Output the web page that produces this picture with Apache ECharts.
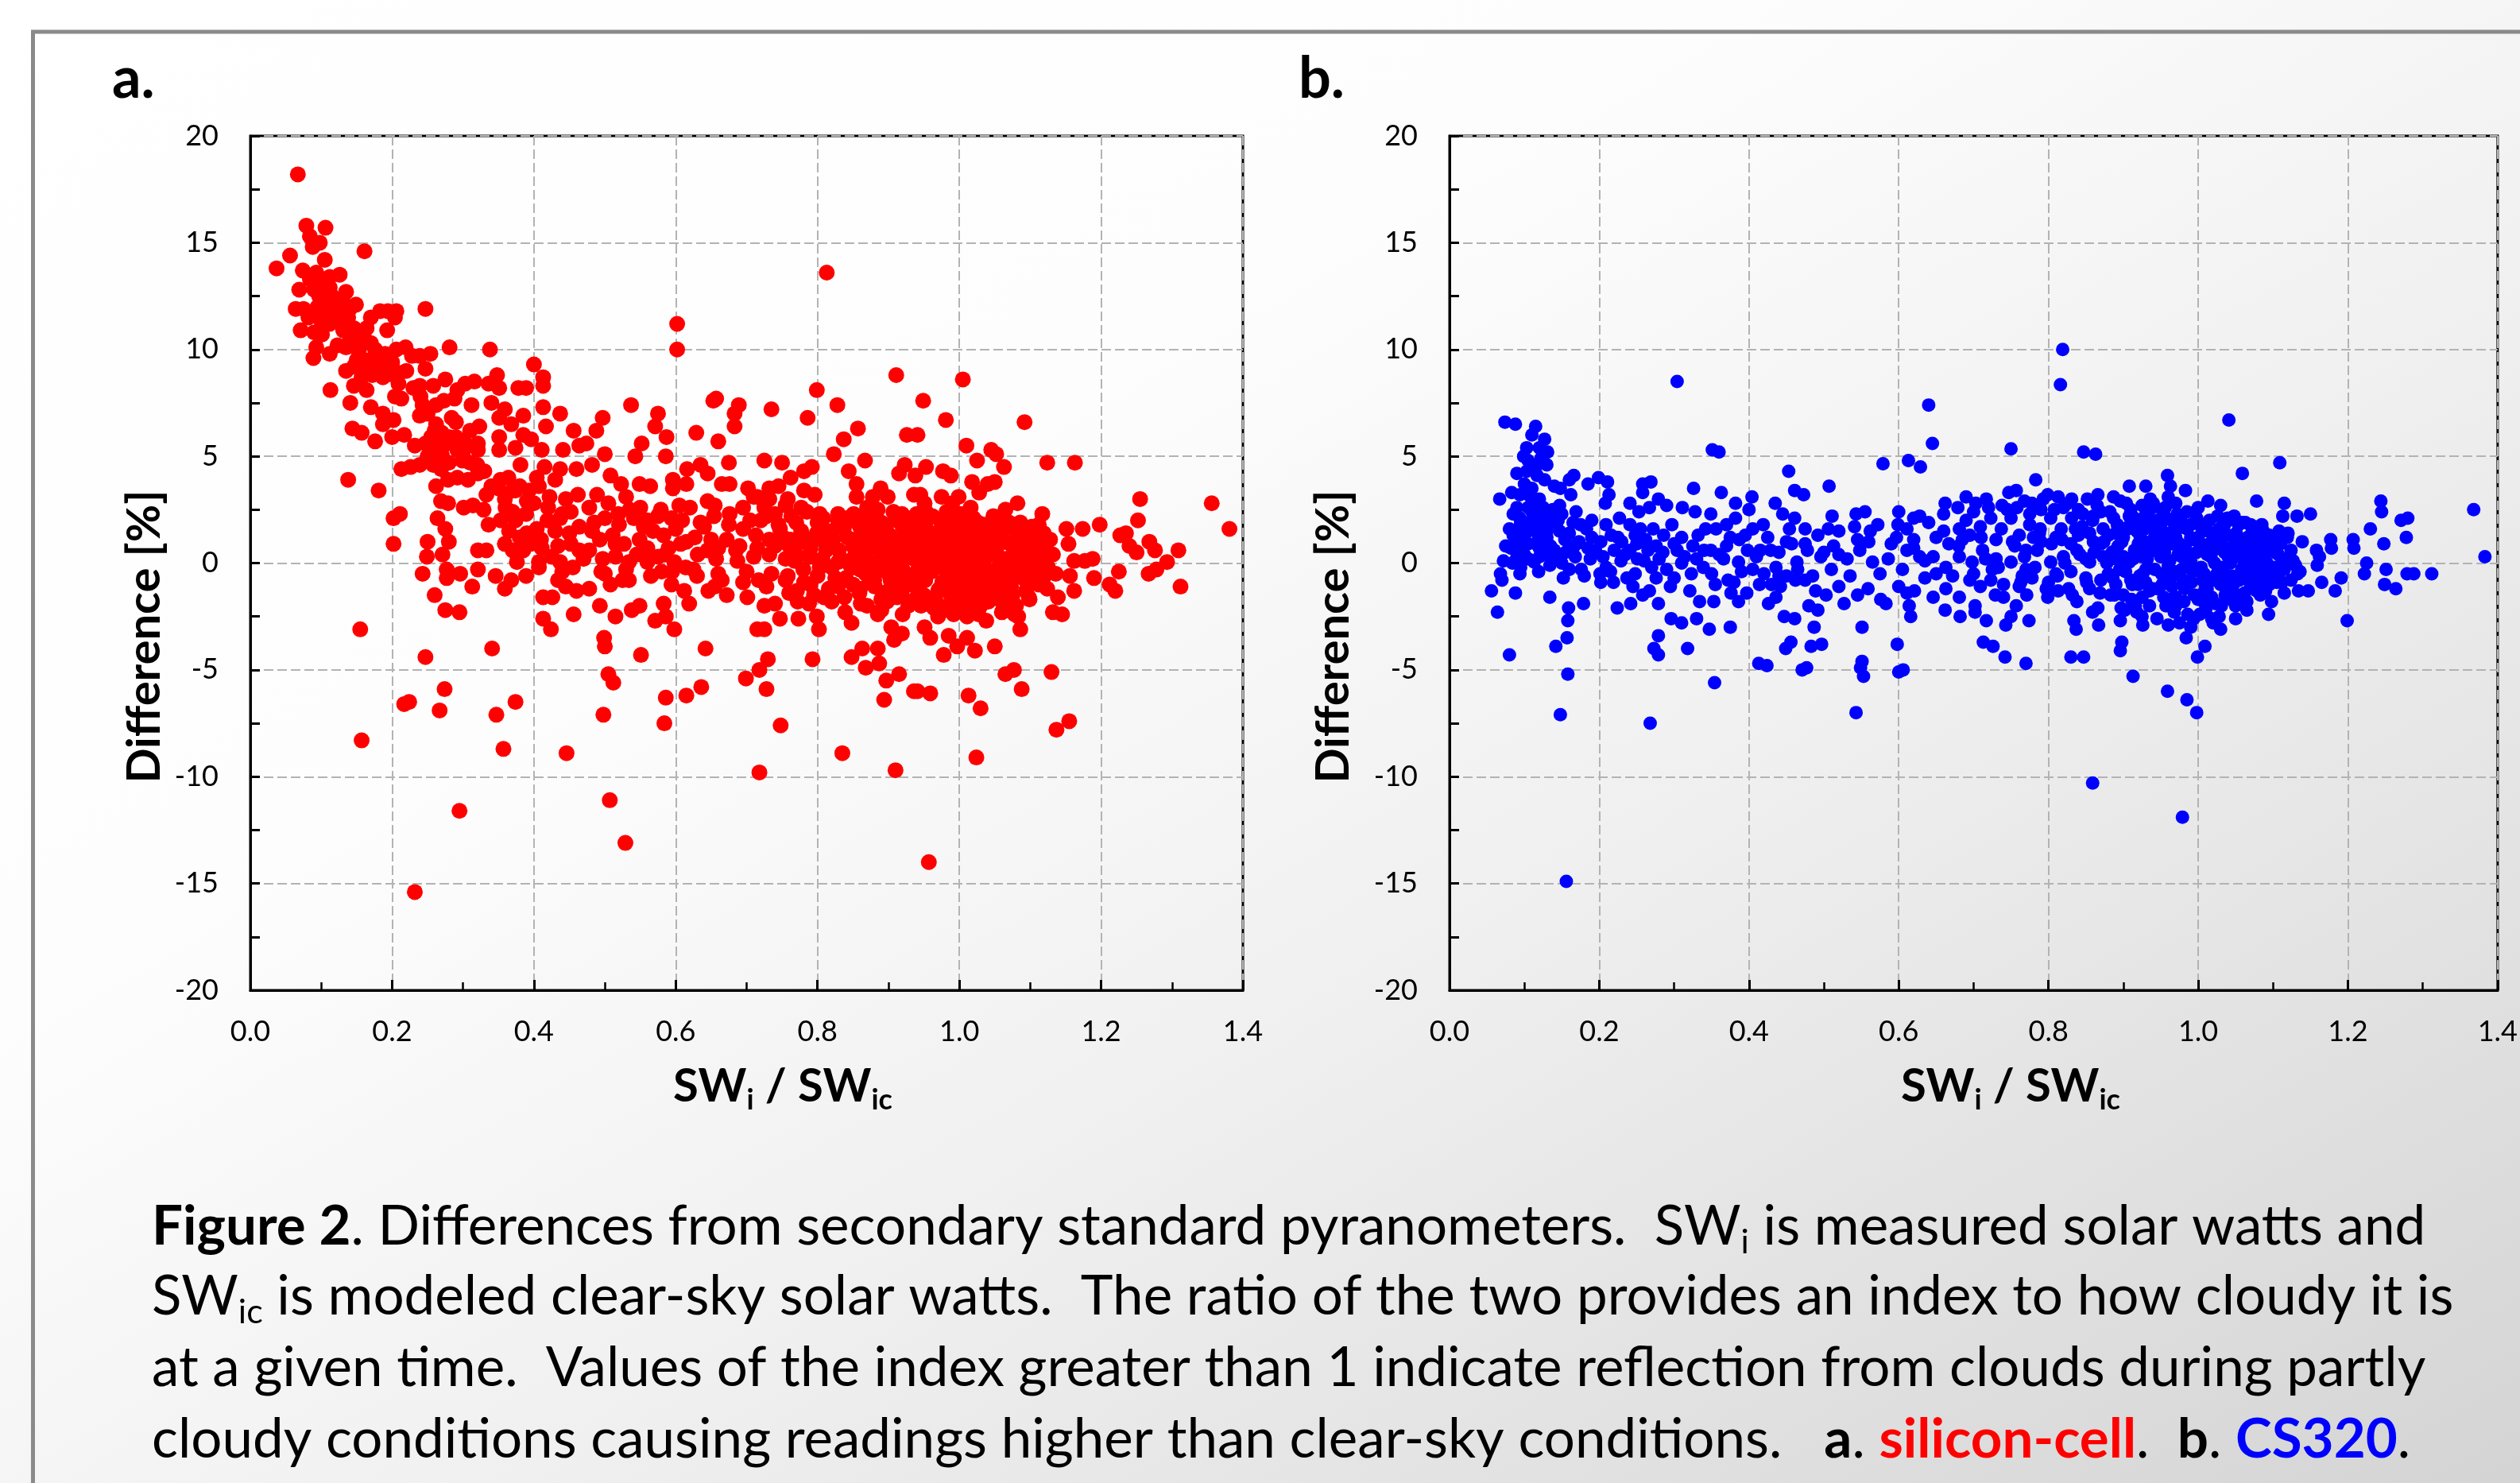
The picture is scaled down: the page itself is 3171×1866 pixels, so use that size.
<!DOCTYPE html>
<html>
<head>
<meta charset="utf-8">
<script src="https://cdn.jsdelivr.net/npm/echarts@6/dist/echarts.min.js"></script>
<style>
html,body{margin:0;padding:0;background:#ffffff;}
#chart{width:3171px;height:1866px;}
</style>
</head>
<body>
<div id="chart"></div>
<script>
// ---------------- DATA ----------------
// Panel a: silicon-cell, [SWi/SWic, Difference %]
const siliconLow = [
[0.067,18.2],[0.079,15.8],[0.106,15.7],[0.084,15.3],[0.088,14.8],[0.098,15.0],[0.161,14.6],[0.056,14.4],[0.037,13.8],[0.105,14.2],
[0.074,13.7],[0.084,13.3],[0.093,13.6],[0.112,13.4],[0.126,13.5],[0.069,12.8],[0.101,12.8],[0.112,12.9],[0.135,12.7],[0.097,12.5],
[0.108,12.3],[0.120,12.2],[0.149,12.1],[0.064,11.9],[0.075,11.9],[0.090,11.8],[0.105,11.8],[0.127,11.8],[0.082,11.5],[0.099,11.4],
[0.112,11.2],[0.138,11.5],[0.071,10.9],[0.090,10.8],[0.101,10.7],[0.131,10.9],[0.146,11.0],[0.164,11.0],[0.170,11.5],[0.183,11.8],
[0.194,11.8],[0.206,11.8],[0.204,11.5],[0.193,10.9],[0.247,11.9],[0.093,10.1],[0.089,9.6],[0.112,9.8],[0.123,10.2],[0.135,10.1],
[0.153,9.9],[0.176,10.0],[0.206,10.0],[0.219,10.1],[0.228,9.7],[0.239,9.7],[0.254,9.8],[0.281,10.1],[0.338,10.0],[0.135,9.0],
[0.146,9.2],[0.157,8.7],[0.172,8.8],[0.187,8.7],[0.202,8.8],[0.247,9.1],[0.113,8.1],[0.146,8.3],[0.164,8.1],[0.209,8.4],
[0.239,8.3],[0.258,8.3],[0.275,8.6],[0.292,8.1],[0.303,8.4],[0.316,8.5],[0.348,8.8],[0.336,8.4],[0.351,8.2],[0.378,8.2],
[0.389,8.2],[0.400,9.3],[0.413,8.7],[0.413,8.3],[0.141,7.5],[0.170,7.3],[0.187,7.0],[0.204,7.8],[0.213,7.7],[0.243,7.4],
[0.262,7.4],[0.273,7.6],[0.288,7.7],[0.312,7.4],[0.340,7.5],[0.359,7.2],[0.413,7.3],[0.437,7.0],[0.144,6.3],[0.157,6.1],
[0.176,5.7],[0.187,6.5],[0.202,6.7],[0.200,5.9],[0.217,6.0],[0.239,6.9],[0.262,6.5],[0.284,6.8],[0.310,6.2],[0.323,6.4],
[0.351,6.8],[0.368,6.5],[0.385,6.9],[0.417,6.4],[0.456,6.2],[0.232,5.5],[0.247,5.6],[0.262,5.3],[0.277,5.6],[0.292,5.3],
[0.307,5.5],[0.321,5.6],[0.321,5.3],[0.351,5.9],[0.351,5.3],[0.374,5.4],[0.385,6.0],[0.396,5.8],[0.411,5.3],[0.441,5.3],
[0.464,5.5],[0.213,4.4],[0.226,4.5],[0.239,4.6],[0.258,4.6],[0.269,4.4],[0.299,4.8],[0.262,3.6],[0.279,3.9],[0.292,4.0],
[0.307,3.9],[0.321,4.2],[0.381,4.6],[0.415,4.5],[0.437,4.4],[0.460,4.4],[0.138,3.9],[0.181,3.4],[0.353,3.9],[0.364,4.0],
[0.404,4.0],[0.430,3.9],[0.269,2.9],[0.279,2.8],[0.333,3.2],[0.359,3.0],[0.374,3.4],[0.393,3.4],[0.407,3.6],[0.422,3.1],
[0.445,3.0],[0.462,3.2],[0.301,2.6],[0.314,2.7],[0.329,2.5],[0.336,1.8],[0.353,2.0],[0.374,2.0],[0.389,2.3],[0.404,1.6],
[0.419,2.0],[0.437,2.1],[0.452,2.4],[0.464,1.7],[0.202,2.1],[0.211,2.3],[0.264,2.1],[0.275,1.6],[0.202,0.9],[0.250,1.0],
[0.280,1.0],[0.249,0.3],[0.271,0.4],[0.321,0.6],[0.333,0.6],[0.359,0.9],[0.370,0.6],[0.385,0.6],[0.411,0.7],[0.434,0.8],
[0.452,0.9],[0.407,0.05],[0.437,0.05],[0.464,0.6],[0.376,0.05],[0.243,-0.5],[0.277,-0.3],[0.277,-0.7],[0.296,-0.5],[0.321,-0.3],
[0.313,-1.1],[0.346,-0.6],[0.359,-1.2],[0.368,-0.8],[0.389,-0.6],[0.407,-0.2],[0.434,-0.8],[0.445,-1.1],[0.460,-1.3],[0.260,-1.5],
[0.275,-2.2],[0.295,-2.3],[0.413,-1.6],[0.426,-1.6],[0.413,-2.6],[0.424,-3.1],[0.456,-2.4],[0.155,-3.1],[0.247,-4.4],[0.341,-4.0],
[0.217,-6.6],[0.224,-6.5],[0.274,-5.9],[0.267,-6.9],[0.347,-7.1],[0.374,-6.5],[0.157,-8.3],[0.357,-8.7],[0.446,-8.9],[0.295,-11.6],
[0.232,-15.4],[0.115,12.5],[0.118,11.6],[0.125,12.0],[0.130,11.2],[0.095,12.0],[0.105,12.4],[0.140,10.4],[0.150,9.5],[0.160,9.3],
[0.168,9.5],[0.180,9.3],[0.195,9.2],[0.185,8.9],[0.160,10.3],[0.250,5.0],[0.260,4.9],[0.270,5.1],[0.280,4.7],[0.255,5.9],
[0.265,5.7],[0.290,5.9],[0.300,5.0],[0.360,2.6],[0.370,2.4],[0.380,1.2],[0.390,1.4],[0.400,2.8],[0.410,1.1],[0.420,2.6],
[0.430,1.5],[0.440,2.3],[0.450,1.4],[0.365,1.5],[0.395,0.9],[0.425,0.3],[0.440,-0.4],[0.455,-0.2]
];
const siliconMid = [
[0.813,13.6],[0.602,11.2],[0.602,10.0],[0.911,8.8],[0.537,7.4],[0.657,7.7],[0.653,7.6],[0.689,7.4],[0.683,7.0],[0.683,6.4],
[0.575,7.0],[0.571,6.4],[0.497,6.8],[0.488,6.2],[0.629,6.1],[0.552,5.6],[0.587,5.9],[0.660,5.7],[0.735,7.2],[0.799,8.1],
[0.786,6.8],[0.828,7.4],[0.857,6.3],[0.837,5.8],[0.926,6.0],[0.823,5.1],[0.867,4.8],[0.915,4.2],[0.923,4.6],[0.543,5.0],
[0.586,5.0],[0.500,5.1],[0.474,5.6],[0.482,4.6],[0.675,4.7],[0.725,4.8],[0.750,4.7],[0.844,4.3],[0.792,4.5],[0.781,4.3],
[0.762,4.0],[0.855,3.7],[0.855,3.1],[0.889,3.5],[0.899,3.1],[0.878,3.1],[0.936,3.2],[0.938,4.1],[0.508,4.1],[0.523,3.7],
[0.549,3.7],[0.564,3.6],[0.596,3.9],[0.596,3.5],[0.616,4.4],[0.615,3.7],[0.635,4.6],[0.645,4.2],[0.665,3.7],[0.676,3.7],
[0.702,3.5],[0.715,3.1],[0.732,3.0],[0.745,3.6],[0.732,3.5],[0.781,3.4],[0.796,3.2],[0.645,2.9],[0.579,2.5],[0.519,2.3],
[0.530,3.1],[0.489,3.2],[0.478,2.6],[0.500,2.1],[0.541,2.1],[0.560,2.0],[0.594,2.1],[0.609,2.0],[0.654,2.2],[0.676,2.3],
[0.695,2.6],[0.710,3.1],[0.728,2.2],[0.758,3.0],[0.777,2.6],[0.803,2.3],[0.829,2.3],[0.848,2.2],[0.867,2.1],[0.885,2.5],
[0.919,2.3],[0.927,2.1],[0.482,1.5],[0.493,1.1],[0.511,1.3],[0.527,0.9],[0.549,1.1],[0.568,1.5],[0.583,1.3],[0.607,0.9],
[0.627,1.2],[0.650,1.1],[0.672,1.1],[0.695,1.6],[0.713,1.3],[0.732,1.1],[0.747,1.6],[0.762,1.1],[0.777,1.5],[0.792,1.1],
[0.807,1.6],[0.822,1.1],[0.837,1.6],[0.852,1.1],[0.867,1.5],[0.882,0.9],[0.897,1.5],[0.912,0.9],[0.930,1.3],[0.478,0.6],
[0.497,0.2],[0.515,0.3],[0.534,0.05],[0.560,0.05],[0.575,0.3],[0.598,0.05],[0.614,-0.2],[0.631,0.4],[0.657,0.2],[0.687,0.1],
[0.710,0.3],[0.732,0.4],[0.755,0.2],[0.770,0.4],[0.788,0.3],[0.807,0.2],[0.829,0.05],[0.852,0.3],[0.874,0.05],[0.897,0.2],
[0.919,0.05],[0.938,0.3],[0.478,-1.2],[0.493,-2.0],[0.508,-1.0],[0.515,-2.5],[0.534,-0.8],[0.538,-2.2],[0.549,-2.0],[0.571,-2.7],
[0.583,-1.9],[0.586,-2.5],[0.594,-1.0],[0.612,-1.3],[0.619,-1.9],[0.646,-1.3],[0.655,-1.1],[0.672,-1.5],[0.701,-1.6],[0.717,-0.8],
[0.728,-1.1],[0.725,-2.0],[0.740,-1.9],[0.747,-2.6],[0.755,-0.8],[0.773,-2.6],[0.771,-1.3],[0.788,-1.9],[0.799,-2.5],[0.809,-1.6],
[0.829,-1.1],[0.839,-2.3],[0.848,-2.8],[0.859,-1.2],[0.885,-2.4],[0.904,-3.0],[0.919,-3.3],[0.908,-3.6],[0.928,-2.0],[0.598,-3.1],
[0.499,-3.5],[0.500,-3.9],[0.551,-4.3],[0.642,-4.0],[0.715,-3.1],[0.725,-3.1],[0.730,-4.5],[0.718,-5.0],[0.699,-5.4],[0.728,-5.9],
[0.802,-3.1],[0.793,-4.5],[0.848,-4.4],[0.863,-4.0],[0.868,-4.9],[0.885,-4.0],[0.887,-4.7],[0.897,-5.5],[0.915,-5.2],[0.894,-6.4],
[0.936,-6.0],[0.505,-5.2],[0.512,-5.6],[0.498,-7.1],[0.586,-6.3],[0.584,-7.5],[0.615,-6.2],[0.636,-5.8],[0.748,-7.6],[0.835,-8.9],
[0.718,-9.8],[0.910,-9.7],[0.507,-11.1],[0.529,-13.1],
[0.76,0.8],[0.78,-0.3],[0.79,0.7],[0.80,-0.6],[0.81,1.0],[0.82,-0.2],[0.83,0.6],[0.84,-0.7],[0.85,0.8],[0.86,-0.3],
[0.87,0.6],[0.88,-0.8],[0.89,0.4],[0.90,-0.5],[0.91,0.5],[0.92,-0.6],[0.93,0.7],[0.94,-0.4],[0.77,1.9],[0.80,1.9],
[0.83,1.8],[0.86,1.7],[0.89,1.9],[0.92,1.7],[0.94,1.8],[0.79,-1.0],[0.85,-1.0],[0.90,-1.3],[0.93,-1.0],[0.94,-1.6],
[0.92,-2.4],[0.89,-1.7],[0.87,-2.0],[0.82,-1.8],[0.76,-1.4],[0.52,1.8],[0.55,2.6],[0.60,1.6],[0.62,2.6],[0.64,1.7],
[0.66,0.7],[0.69,0.8],[0.72,2.0],[0.74,0.8],[0.70,-0.4],[0.66,-0.5],[0.63,-0.6],[0.58,-0.4],[0.53,-0.3],[0.50,-0.5],
[0.56,0.7],[0.59,0.7]
];
const siliconHigh = [
[1.005,8.6],[0.949,7.6],[0.981,6.7],[1.092,6.6],[0.941,6.0],[1.010,5.5],[1.045,5.3],[1.052,5.1],[1.025,4.8],[1.063,4.5],
[1.124,4.7],[1.163,4.7],[0.953,4.5],[0.977,4.3],[0.988,4.1],[1.018,3.8],[1.028,3.3],[1.040,3.7],[1.050,3.8],[0.945,3.2],
[0.951,2.8],[0.975,3.1],[0.990,2.8],[0.999,3.1],[1.007,2.3],[1.016,2.6],[1.065,2.5],[1.082,2.8],[1.117,2.3],[1.255,3.0],
[1.356,2.8],[1.252,2.0],[1.381,1.6],[1.198,1.8],[1.174,1.6],[1.151,1.6],[1.102,1.7],[1.119,1.4],[1.154,0.9],[1.227,1.3],
[1.235,1.4],[1.268,1.0],[1.240,0.8],[1.250,0.5],[1.276,0.6],[1.309,0.6],[1.293,0.05],[1.267,-0.5],[1.278,-0.3],[1.225,-0.4],
[1.212,-1.0],[1.220,-1.3],[1.312,-1.1],[1.190,-0.7],[1.188,0.2],[1.177,0.1],[1.162,0.1],[1.162,-1.3],[1.156,-0.6],[1.132,0.4],
[1.136,-0.5],[1.139,-1.6],[1.132,-2.3],[1.145,-2.4],[1.106,0.6],[1.091,0.9],[1.083,-2.5],[1.086,-3.1],[1.098,-1.6],[1.050,-3.9],
[1.022,-4.1],[1.011,-3.5],[0.997,-3.9],[0.985,-3.4],[0.978,-4.3],[0.959,-3.5],[0.951,-3.0],[1.065,-5.2],[1.077,-5.0],[1.088,-5.9],
[1.130,-5.1],[0.959,-6.1],[0.941,-6.0],[1.013,-6.2],[1.030,-6.8],[1.137,-7.8],[1.155,-7.4],[1.024,-9.1],[0.957,-14.0],[1.038,-2.7],
[1.011,-2.5],[0.984,-2.2],
[0.950,1.5],[0.955,0.4],[0.952,-0.8],[0.958,-1.7],[0.965,1.1],[0.968,-0.2],[0.972,-1.2],[0.978,1.8],[0.980,0.5],[0.983,-0.6],
[0.987,-1.9],[0.990,1.3],[0.993,0.1],[0.996,-1.1],[1.000,0.9],[1.003,-0.3],[1.005,1.7],[1.008,-1.6],[1.012,0.4],[1.015,-0.7],
[1.018,1.4],[1.021,-1.3],[1.025,0.0],[1.028,1.0],[1.031,-0.9],[1.035,1.8],[1.038,0.3],[1.041,-1.8],[1.045,-0.4],[1.048,1.2],
[1.052,0.6],[1.055,-1.2],[1.058,-0.1],[1.062,1.5],[1.065,0.2],[1.068,-0.8],[1.072,0.9],[1.075,-1.5],[1.078,0.3],[1.082,1.3],
[1.085,-0.5],[1.088,0.7],[1.092,-0.2],[1.095,1.0],[1.098,-0.9],[1.102,0.4],[1.106,-0.3],[1.110,0.9],[1.115,0.1],[1.120,-0.6],
[0.962,2.2],[0.990,2.0],[1.020,2.1],[1.060,2.0],[0.970,-2.5],[1.000,-2.2],[1.030,-2.0],[1.060,-2.3]
];
// extra points inside the saturated clusters of panel a
const siliconDense = [
[0.752,1.2],[0.758,-0.6],[0.763,2.2],[0.768,0.1],[0.772,-1.8],[0.776,1.0],[0.781,-0.9],[0.785,2.4],[0.790,0.3],[0.795,-1.5],
[0.799,1.4],[0.803,-0.2],[0.808,2.1],[0.812,0.6],[0.816,-1.2],[0.820,1.5],[0.825,-0.7],[0.829,2.0],[0.833,0.2],[0.838,-1.6],
[0.842,1.2],[0.846,-0.1],[0.851,2.3],[0.855,0.5],[0.859,-1.4],[0.864,1.1],[0.868,-0.5],[0.872,1.9],[0.876,0.0],[0.881,-1.1],
[0.885,1.6],[0.889,-0.3],[0.894,0.8],[0.898,-1.8],[0.902,1.3],[0.906,-0.1],[0.911,2.0],[0.915,0.4],[0.919,-1.3],[0.923,1.0],
[0.928,-0.6],[0.932,1.7],[0.936,0.2],[0.941,-1.0],[0.945,0.9],[0.949,-0.2],
[0.946,-2.0],[0.953,2.4],[0.957,1.0],[0.961,-0.4],[0.964,-2.1],[0.969,0.7],[0.973,2.0],[0.976,-0.9],[0.979,0.0],[0.982,2.4],
[0.986,-1.4],[0.989,0.6],[0.992,-2.4],[0.995,1.6],[0.998,-0.5],[1.002,2.3],[1.006,0.1],[1.009,-1.0],[1.013,1.1],[1.016,-2.1],
[1.019,0.7],[1.023,-0.3],[1.026,1.9],[1.029,-1.7],[1.033,0.5],[1.036,-0.6],[1.039,1.5],[1.043,-1.3],[1.046,0.8],[1.050,-0.9],
[1.053,2.1],[1.057,0.0],[1.060,-1.8],[1.063,1.0],[1.067,-0.4],[1.070,1.9],[1.073,-1.1],[1.077,0.5],[1.080,-2.0],[1.084,1.0],
[1.087,-0.1],[1.091,1.6],[1.094,-1.3],[1.097,0.3],[1.101,1.3],[1.104,-0.7],[1.108,0.6],[1.112,-1.0],[1.116,1.2],[1.121,0.4],
[1.125,-0.2],[1.128,1.1],
[0.470,0.2],[0.485,1.9],[0.495,-0.4],[0.505,2.8],[0.515,0.9],[0.525,-0.8],[0.535,2.5],[0.545,0.4],[0.555,1.7],[0.565,-0.6],
[0.575,2.2],[0.585,0.4],[0.595,-0.4],[0.605,2.7],[0.615,1.0],[0.625,-0.3],[0.635,1.9],[0.645,0.6],[0.655,2.7],[0.665,-0.8],
[0.675,1.8],[0.685,0.6],[0.695,-0.9],[0.705,2.0],[0.715,0.7],[0.725,2.6],[0.735,-0.5],[0.745,1.8],[0.755,2.7],[0.740,2.3],
[0.090,12.8],[0.100,13.2],[0.110,12.0],[0.120,11.4],[0.130,12.4],[0.140,11.9],[0.150,10.8],[0.160,10.6],[0.170,10.3],[0.180,9.6],
[0.190,9.8],[0.200,9.4],[0.210,8.9],[0.220,9.0],[0.230,8.2],[0.240,7.8],[0.250,7.0],[0.260,6.2],[0.270,6.1],[0.280,5.9],
[0.290,6.6],[0.300,5.7],[0.310,4.7],[0.320,4.6],[0.330,4.3],[0.340,3.6],[0.350,3.5],[0.360,3.2],[0.370,3.4],[0.380,3.6],
[0.390,2.9]
];
const siliconCore = [
[0.852,-0.2],[0.856,1.9],[0.861,-1.9],[0.865,0.3],[0.869,1.3],[0.873,-0.9],[0.878,2.3],[0.882,-0.2],[0.886,0.9],[0.890,-2.2],
[0.895,1.8],[0.899,0.1],[0.903,-0.8],[0.907,2.4],[0.912,-1.6],[0.916,1.1],[0.920,-0.3],[0.924,2.0],[0.929,-1.8],[0.933,0.5],
[0.937,-0.9],[0.941,1.5],[0.946,0.0],[0.950,-1.5],[0.954,2.0],[0.959,-0.4],[0.963,1.4],[0.967,-1.8],[0.971,0.3],[0.976,1.3],
[0.980,-0.3],[0.984,2.0],[0.988,-1.0],[0.993,0.9],[0.997,-2.0],[1.001,0.2],[1.005,1.2],[1.010,-0.4],[1.014,2.0],[1.018,-1.0],
[1.022,0.9],[1.027,-2.4],[1.031,1.6],[1.035,-0.1],[1.039,-1.5],[1.044,0.6],[1.048,2.2],[1.052,-0.8],[1.056,1.0],[1.061,-1.6],
[1.065,0.0],[1.069,1.7],[1.073,-0.3],[1.078,-2.4],[1.082,0.6],[1.086,1.9],[1.090,-0.7],[1.095,0.3],[1.099,-1.7],[1.103,1.0],
[1.107,-0.1],[1.112,1.8],[1.116,-0.6],[1.120,0.7],[1.124,-1.2],[1.129,0.4],[0.960,0.2],[0.980,1.0],[1.000,-0.8],[1.020,0.2],
[1.040,1.1],[1.060,-0.6],[1.080,-0.1],[1.100,0.2],[0.970,-1.3],[0.990,-1.6],[1.010,1.7],[1.030,-1.4],[1.050,1.6],[1.070,-1.9],
[0.900,0.9],[0.920,-1.1],[0.940,2.3],[0.880,1.5],[0.860,-1.2],[0.870,2.6]
];
// Panel b: CS320
const cs320Low = [
[0.304,8.5],[0.074,6.6],[0.088,6.5],[0.115,6.4],[0.110,6.0],[0.127,5.8],[0.103,5.4],[0.120,5.4],[0.131,5.2],[0.099,5.0],
[0.122,4.9],[0.105,4.8],[0.103,4.3],[0.117,4.1],[0.127,3.9],[0.140,3.6],[0.148,3.5],[0.160,3.9],[0.166,4.1],[0.185,3.7],
[0.199,4.0],[0.211,3.8],[0.351,5.3],[0.360,5.2],[0.453,4.3],[0.067,3.0],[0.083,3.3],[0.094,3.2],[0.105,3.2],[0.162,3.2],
[0.213,3.2],[0.208,2.8],[0.258,3.7],[0.269,3.8],[0.258,3.3],[0.326,3.5],[0.363,3.3],[0.404,3.1],[0.461,3.4],[0.435,2.8],
[0.279,3.0],[0.290,2.7],[0.241,2.8],[0.267,2.6],[0.253,2.4],[0.311,2.6],[0.328,2.4],[0.349,2.3],[0.382,2.8],[0.400,2.5],
[0.445,2.3],[0.105,2.6],[0.119,2.6],[0.138,2.5],[0.147,2.7],[0.169,2.4],[0.094,2.1],[0.112,2.1],[0.126,1.8],[0.091,1.6],
[0.105,1.5],[0.119,1.2],[0.089,1.1],[0.099,0.9],[0.129,1.7],[0.147,1.5],[0.154,1.1],[0.140,0.6],[0.175,1.8],[0.183,1.6],
[0.173,1.0],[0.082,0.7],[0.072,0.1],[0.084,0.0],[0.094,-0.5],[0.068,-0.5],[0.070,-0.8],[0.056,-1.3],[0.064,-2.3],[0.088,-1.4],
[0.080,-4.3],[0.113,0.05],[0.119,-0.4],[0.134,-0.1],[0.134,-1.6],[0.150,0.0],[0.152,-0.7],[0.159,-2.1],[0.158,-2.7],[0.157,-3.5],
[0.142,-3.9],[0.158,-5.2],[0.148,-7.1],[0.156,-14.9],[0.168,0.3],[0.176,-0.3],[0.179,-1.9],[0.188,0.2],[0.195,0.6],[0.202,1.0],
[0.201,-0.5],[0.202,-0.9],[0.209,-0.2],[0.220,0.6],[0.219,-0.9],[0.229,0.1],[0.224,-2.1],[0.209,1.8],[0.216,1.3],[0.227,2.1],
[0.241,1.8],[0.248,1.3],[0.241,0.6],[0.251,0.2],[0.237,-0.7],[0.248,-0.5],[0.242,-1.9],[0.262,1.1],[0.272,1.6],[0.276,0.8],
[0.265,0.6],[0.258,-1.5],[0.267,-1.3],[0.276,-0.7],[0.279,-1.9],[0.279,-3.4],[0.273,-4.0],[0.279,-4.3],[0.268,-7.5],[0.286,1.3],
[0.297,1.8],[0.300,0.9],[0.295,-1.1],[0.296,-2.6],[0.310,-2.8],[0.304,0.6],[0.314,0.3],[0.323,-0.5],[0.321,-1.3],[0.334,-1.8],
[0.330,-2.6],[0.318,-4.0],[0.332,1.3],[0.342,1.6],[0.349,0.6],[0.339,-0.2],[0.353,-1.8],[0.347,-3.1],[0.354,-5.6],[0.356,1.6],
[0.370,1.8],[0.366,0.2],[0.372,-0.8],[0.376,-1.4],[0.375,-3.0],[0.382,2.1],[0.387,1.1],[0.386,0.05],[0.386,-1.8],[0.398,0.6],
[0.397,-1.4],[0.405,1.6],[0.414,-1.0],[0.426,-1.9],[0.413,-4.7],[0.424,-4.8],[0.419,1.8],[0.429,0.6],[0.436,-0.2],[0.436,-1.6],
[0.442,-1.1],[0.447,-2.5],[0.461,-2.6],[0.449,-4.0],[0.456,-3.7],[0.471,-5.0],[0.454,1.6],[0.461,2.1],[0.457,0.9],[0.464,0.05],
[0.462,-0.8],[0.095,1.9],[0.110,1.7],[0.125,1.0],[0.100,0.4],[0.130,0.4],[0.145,2.0],[0.160,1.4],[0.165,0.7],[0.190,1.2],
[0.230,1.0],[0.250,0.9],[0.260,0.1],[0.280,0.2],[0.290,-0.3],[0.310,1.2],[0.330,0.2],[0.350,-0.5],[0.370,0.8],[0.390,-0.4],
[0.410,0.3],[0.420,-0.5],[0.440,0.5],[0.450,-0.6]
];
const cs320Mid = [
[0.819,10.0],[0.816,8.35],[0.640,7.4],[0.645,5.6],[0.750,5.35],[0.847,5.2],[0.863,5.1],[0.579,4.65],[0.613,4.8],[0.629,4.5],
[0.473,3.2],[0.507,3.6],[0.783,3.9],[0.908,3.6],[0.930,3.6],[0.511,2.2],[0.543,2.3],[0.555,2.4],[0.620,2.1],[0.628,2.2],
[0.662,2.8],[0.679,2.6],[0.690,3.1],[0.703,2.8],[0.717,3.0],[0.738,2.7],[0.747,3.3],[0.757,3.4],[0.768,2.9],[0.778,2.8],
[0.799,3.2],[0.813,3.1],[0.831,3.0],[0.852,3.0],[0.866,3.2],[0.887,3.1],[0.904,2.8],[0.925,2.7],[0.939,2.6],
[0.475,1.6],[0.492,1.3],[0.506,1.6],[0.520,1.5],[0.541,1.7],[0.562,1.5],[0.572,1.8],[0.599,1.8],[0.597,1.2],[0.611,1.6],
[0.667,0.9],[0.681,1.6],[0.695,1.3],[0.709,1.7],[0.723,2.1],[0.737,1.6],[0.750,2.1],[0.761,1.3],[0.775,1.8],[0.789,1.6],
[0.803,2.1],[0.817,1.6],[0.831,2.1],[0.845,1.7],[0.859,2.0],[0.873,1.6],[0.887,2.1],[0.901,1.6],[0.915,2.1],[0.929,1.6],
[0.939,2.0],[0.478,0.6],[0.496,0.3],[0.513,0.8],[0.531,0.2],[0.548,0.6],[0.565,0.05],[0.586,0.2],[0.611,0.6],[0.628,0.3],
[0.646,0.3],[0.663,-0.2],[0.681,0.3],[0.698,0.05],[0.716,0.2],[0.733,-0.2],[0.750,0.05],[0.768,0.3],[0.785,0.6],[0.803,0.05],
[0.820,0.3],[0.838,0.6],[0.855,0.05],[0.873,0.3],[0.890,0.6],[0.908,0.05],[0.925,0.3],[0.939,0.6],
[0.475,-0.8],[0.489,-1.3],[0.503,-1.5],[0.520,-1.1],[0.527,-1.9],[0.545,-1.5],[0.559,-1.2],[0.576,-1.7],[0.583,-1.9],[0.600,-1.1],
[0.611,-1.4],[0.621,-1.3],[0.635,-0.7],[0.646,-1.6],[0.663,-1.2],[0.681,-1.6],[0.695,-0.8],[0.709,-1.1],[0.723,-0.8],[0.729,-1.5],
[0.740,-1.6],[0.761,-1.1],[0.771,-1.5],[0.778,-0.7],[0.799,-1.6],[0.813,-1.3],[0.827,-1.2],[0.838,-1.8],[0.855,-1.2],[0.866,-2.1],
[0.883,-1.5],[0.897,-2.1],[0.911,-1.7],[0.925,-1.6],[0.939,-1.2],
[0.480,-2.0],[0.492,-2.2],[0.487,-3.0],[0.483,-3.9],[0.497,-3.8],[0.477,-4.9],[0.551,-3.0],[0.551,-4.6],[0.549,-4.9],[0.553,-5.3],
[0.543,-7.0],[0.598,-3.8],[0.600,-5.1],[0.606,-5.0],[0.614,-2.0],[0.616,-2.5],[0.662,-2.2],[0.682,-2.5],[0.702,-2.0],[0.702,-2.3],
[0.717,-2.7],[0.713,-3.7],[0.726,-3.9],[0.742,-4.4],[0.743,-2.9],[0.750,-2.5],[0.757,-2.0],[0.770,-4.7],[0.774,-2.7],[0.834,-2.7],
[0.837,-3.1],[0.830,-4.4],[0.847,-4.4],[0.859,-2.3],[0.867,-2.9],[0.896,-2.7],[0.898,-3.7],[0.896,-4.1],[0.913,-5.3],[0.918,-2.3],
[0.926,-2.9],[0.859,-10.3],
[0.86,1.0],[0.88,-0.5],[0.90,1.2],[0.91,-0.8],[0.92,0.9],[0.93,-0.3],[0.94,1.1],[0.85,-0.7],[0.87,0.9],[0.89,0.2],
[0.83,0.9],[0.81,-0.5],[0.79,1.0],[0.77,-0.3],[0.84,2.5],[0.87,2.4],[0.91,2.5],[0.93,2.3]
];
const cs320High = [
[1.041,6.7],[1.109,4.7],[1.059,4.2],[0.959,4.1],[0.963,3.6],[0.983,3.4],[0.960,3.1],[0.956,2.6],[1.013,2.9],[1.078,2.9],
[1.115,2.8],[1.113,2.2],[1.132,2.2],[1.150,2.3],[1.244,2.9],[1.245,2.4],[1.368,2.5],[1.383,0.3],[1.039,2.1],[1.054,1.8],
[1.063,1.9],[1.075,1.7],[1.087,1.5],[1.103,1.2],[1.119,1.2],[1.139,1.0],[1.158,0.6],[1.162,0.3],[1.177,1.1],[1.178,0.7],
[1.207,1.1],[1.208,0.7],[1.230,1.6],[1.248,0.9],[1.271,2.0],[1.280,2.1],[1.278,1.2],[1.225,0.0],[1.222,-0.5],[1.251,-0.3],
[1.279,-0.5],[1.288,-0.5],[1.312,-0.5],[1.249,-1.0],[1.264,-1.2],[1.191,-0.7],[1.183,-1.3],[1.165,-0.9],[1.134,-1.3],[1.147,-1.3],
[1.159,-0.1],[1.136,-0.4],[1.124,-0.8],[1.106,-0.5],[1.094,-2.4],[1.199,-2.7],[1.030,-3.1],[0.984,-3.5],[1.009,-3.9],[0.999,-4.4],
[0.959,-6.0],[0.985,-6.4],[0.998,-7.0],[0.979,-11.9],
[0.945,2.0],[0.948,0.8],[0.951,-0.5],[0.954,-1.6],[0.958,1.4],[0.962,0.1],[0.965,-1.1],[0.968,-2.3],[0.972,2.3],[0.975,0.9],
[0.978,-0.3],[0.981,-1.8],[0.985,1.6],[0.988,0.4],[0.991,-0.9],[0.994,-2.6],[0.998,2.1],[1.001,1.0],[1.004,-0.2],[1.007,-1.4],
[1.010,-2.2],[1.013,1.5],[1.017,0.3],[1.020,-0.8],[1.023,-1.9],[1.026,2.2],[1.030,0.9],[1.033,-0.4],[1.036,-1.5],[1.040,1.3],
[1.043,0.0],[1.047,-1.0],[1.050,-2.0],[1.054,0.7],[1.058,-0.3],[1.062,-1.4],[1.066,1.2],[1.070,0.2],[1.074,-0.9],[1.078,0.8],
[1.082,-0.1],[1.086,-1.2],[1.090,0.5],[1.094,-0.6],[1.098,0.9],[1.102,-0.2],[1.107,0.4],[1.112,-0.9],[1.118,0.1],[1.124,0.6],
[1.130,-0.1],[0.960,-2.9],[0.990,-3.0],[1.020,-2.8],[1.050,-2.6],[1.000,2.6],[1.030,2.7],[0.970,2.8]
];
// extra points inside the saturated clusters of panel b
const cs320Dense = [
[0.942,1.5],[0.946,-1.2],[0.950,0.3],[0.953,2.4],[0.957,-2.0],[0.960,0.9],[0.963,-0.7],[0.967,1.9],[0.970,-1.6],[0.973,0.4],
[0.977,2.0],[0.980,-1.0],[0.983,0.7],[0.986,-2.4],[0.990,1.2],[0.993,-0.4],[0.996,2.4],[1.000,-1.7],[1.003,0.6],[1.006,-0.8],
[1.009,1.8],[1.012,-1.2],[1.015,0.9],[1.018,-2.6],[1.021,1.2],[1.025,-0.5],[1.028,1.6],[1.031,-2.0],[1.035,0.5],[1.038,-0.9],
[1.041,2.0],[1.044,-1.7],[1.048,0.4],[1.051,1.4],[1.055,-0.8],[1.058,1.9],[1.062,0.1],[1.065,-1.8],[1.069,0.6],[1.072,1.6],
[1.076,-0.5],[1.080,1.1],[1.083,-1.5],[1.087,0.2],[1.091,1.0],[1.095,-1.0],[1.100,0.7],[1.105,-0.5],[1.110,0.9],[1.115,-0.3],
[1.120,1.4],[1.127,0.1],[1.133,-0.5],
[0.560,1.0],[0.575,-0.5],[0.590,0.9],[0.605,-0.3],[0.620,1.1],[0.635,0.1],[0.650,1.2],[0.660,2.3],[0.672,-0.6],[0.685,1.1],
[0.700,2.4],[0.712,0.6],[0.725,-0.3],[0.730,1.1],[0.745,2.5],[0.755,0.8],[0.765,-0.6],[0.780,1.2],[0.790,2.5],[0.800,-0.9],
[0.810,1.2],[0.820,2.6],[0.830,-0.4],[0.840,1.3],[0.850,0.2],[0.860,2.2],[0.870,-0.8],[0.880,1.3],[0.890,-1.0],[0.900,0.3],
[0.910,1.9],[0.920,-1.0],[0.930,0.8],[0.935,-2.0],[0.940,2.8],
[0.075,0.8],[0.080,1.6],[0.085,2.3],[0.090,0.3],[0.095,-0.2],[0.100,1.3],[0.105,0.2],[0.110,2.4],[0.115,0.9],[0.120,0.3],
[0.125,2.2],[0.130,1.2],[0.135,0.8],[0.140,1.9],[0.145,0.3],[0.150,2.3],[0.155,0.5],[0.160,-0.3],[0.165,1.9],[0.170,0.9],
[0.180,-0.6],[0.185,0.7],[0.190,2.0],
[0.205,0.3],[0.215,-0.4],[0.225,1.2],[0.235,0.4],[0.245,-1.1],[0.255,1.6],[0.270,-0.2],[0.285,0.5],[0.300,-0.7],[0.310,0.0],
[0.325,0.8],[0.340,0.6],[0.355,-1.0],[0.360,0.4],[0.375,1.2],[0.380,-0.9],[0.395,1.3],[0.405,-0.3],[0.415,0.6],[0.425,1.2],
[0.430,-1.0],[0.440,-0.6],[0.450,1.0],[0.465,-0.3],[0.475,0.9],[0.485,-0.6],[0.500,0.5],[0.510,-0.3],[0.520,0.4],[0.535,-0.6],
[0.545,1.1]
];
const cs320Core = [
[0.885,0.5],[0.888,-1.5],[0.892,1.8],[0.895,-0.3],[0.898,1.0],[0.902,-2.2],[0.905,0.0],[0.908,2.2],[0.912,-1.0],[0.915,0.6],
[0.918,1.5],[0.922,-0.6],[0.925,-2.5],[0.928,1.0],[0.932,0.2],[0.935,-1.3],[0.938,1.9],[0.942,-0.3],[0.945,-2.6],[0.948,1.2],
[0.952,-1.0],[0.955,0.5],[0.958,2.1],[0.962,-1.7],[0.965,0.9],[0.968,-0.4],[0.972,1.6],[0.975,-2.8],[0.978,0.3],[0.982,-1.2],
[0.985,2.4],[0.988,-0.1],[0.992,1.1],[0.995,-1.5],[0.998,0.5],[1.002,-2.4],[1.005,1.6],[1.008,-0.5],[1.012,0.4],[1.015,2.0],
[1.018,-1.6],[1.022,0.0],[1.025,1.0],[1.028,-2.5],[1.032,-0.2],[1.035,1.8],[1.038,-1.2],[1.042,0.7],[1.045,-0.6],[1.048,2.2],
[1.052,-1.5],[1.055,0.3],[1.058,1.1],[1.062,-0.7],[1.065,-2.2],[1.068,0.9],[1.072,-0.3],[1.075,1.4],[1.078,-1.3],[1.082,0.4],
[1.085,1.8],[1.088,-0.8],[1.092,0.0],[1.095,1.3],[1.098,-1.8],[1.102,0.5],[1.105,-0.9],[1.108,1.5],[1.112,0.2],[1.115,-1.4],
[0.960,-0.1],[0.970,1.2],[0.980,-0.8],[0.990,0.1],[1.000,1.2],[1.010,-1.1],[1.020,0.6],[1.030,-1.0],[1.040,0.3],[1.050,1.0],
[1.060,-0.2],[1.070,-1.1],[1.080,0.9],[1.090,-0.4],[1.100,0.8],[0.950,1.8],[0.990,1.8],[1.030,1.5],[1.070,1.8],[0.970,-2.0],
[1.010,-2.0],[1.050,-1.8],[1.090,-1.3],[0.930,-0.9],[0.940,0.6],[0.920,2.0],[0.900,-1.5],[0.890,1.4],
[0.085,1.3],[0.090,2.6],[0.095,0.6],[0.100,1.9],[0.105,0.9],[0.110,2.8],[0.115,1.5],[0.120,0.7],[0.125,2.6],[0.130,1.5],
[0.135,2.3],[0.100,3.7],[0.110,3.5],[0.120,3.0],[0.090,4.2],[0.115,4.5],[0.130,4.6]
];
const cs320Band = [
[0.752,1.0],[0.758,2.6],[0.763,-0.9],[0.770,0.6],[0.775,2.3],[0.782,-0.2],[0.788,1.4],[0.793,3.0],[0.797,-1.2],[0.804,0.9],
[0.808,2.5],[0.812,-0.6],[0.818,1.1],[0.822,0.0],[0.826,2.8],[0.832,-1.5],[0.836,1.6],[0.842,0.4],[0.846,2.3],[0.851,-0.9],
[0.855,1.4],[0.861,0.5],[0.865,2.7],[0.869,-1.4],[0.874,1.0],[0.878,0.0],[0.882,2.4],[0.886,-0.7],[0.893,0.8],[0.896,2.9],
[0.903,-0.4],[0.906,1.6],[0.913,0.2],[0.916,-2.0],[0.922,1.3],[0.926,-0.5],[0.933,1.7],[0.936,3.0],[0.680,0.8],[0.690,2.0],
[0.700,-0.5],[0.710,1.2],[0.720,2.6],[0.730,0.2],[0.740,-1.0],[0.640,1.9],[0.650,-0.5],[0.660,1.5],[0.620,0.7],[0.600,2.4]
];
// Axis scale settings (ticks)
const xRange = [0, 1.4];
const xStep = 0.2;
const yRange = [-20, 20];
const yStep = 5;
// Texts
const panelLabels = ['a.', 'b.'];
const yTitle = 'Difference [%]';
const captionLines = [
  '{b|Figure 2}. Differences from secondary standard pyranometers.  SW{s|i} is measured solar watts and',
  'SW{s|ic} is modeled clear-sky solar watts.  The ratio of the two provides an index to how cloudy it is',
  'at a given time.  Values of the index greater than 1 indicate reflection from clouds during partly',
  'cloudy conditions causing readings higher than clear-sky conditions.   {b|a}. {r|silicon-cell}.  {b|b}. {u|CS320}.'
];

// ---------------- CHART ----------------
const FONT = 'Lato';
const chart = echarts.init(document.getElementById('chart'), null, {renderer: 'canvas'});

// caption font size fitted to the reference line width
const mctx = document.createElement('canvas').getContext('2d');
function tw(t, w, s) { mctx.font = w + ' ' + s + 'px ' + FONT; return mctx.measureText(t).width; }
const line1W = tw('Figure 2', 'bold', 100) + tw('. Differences from secondary standard pyranometers.  SW', 'normal', 100)
  + tw('i', 'normal', 62) + tw(' is measured solar watts and', 'normal', 100);
const CF = Math.round(100 * 2860 / line1W * 10) / 10;

function xAxisCfg(gi) {
  return {
    type: 'value', gridIndex: gi, min: xRange[0], max: xRange[1], interval: xStep,
    axisLine: {show: true, onZero: false, lineStyle: {color: '#000', width: 3}},
    axisTick: {show: true, inside: true, length: 13, lineStyle: {color: '#000', width: 3}},
    minorTick: {show: true, splitNumber: 2, length: 10, lineStyle: {color: '#000', width: 2.5}},
    splitLine: {show: true, lineStyle: {color: '#b3b3b3', width: 2, type: [12, 5]}},
    axisLabel: {fontSize: 36, color: '#000', fontFamily: FONT, margin: 34,
      formatter: v => v.toFixed(1)}
  };
}
function yAxisCfg(gi) {
  return {
    type: 'value', gridIndex: gi, min: yRange[0], max: yRange[1], interval: yStep,
    axisLine: {show: true, onZero: false, lineStyle: {color: '#000', width: 3}},
    axisTick: {show: true, inside: true, length: 12, lineStyle: {color: '#000', width: 3}},
    minorTick: {show: true, splitNumber: 2, length: 12, lineStyle: {color: '#000', width: 3}},
    splitLine: {show: true, lineStyle: {color: '#b3b3b3', width: 2, type: [12, 5]}},
    axisLabel: {fontSize: 36, color: '#000', fontFamily: FONT, margin: 40}
  };
}

const titleRich = {
  m: {fontSize: 58, fontWeight: 'bold', fontFamily: FONT, fill: '#000', color: '#000', lineHeight: 70},
  s: {fontSize: 36, fontWeight: 'bold', fontFamily: FONT, fill: '#000', color: '#000', lineHeight: 30, verticalAlign: 'bottom'}
};
function xTitle(cx) {
  return {
    type: 'text', x: cx, y: 1367, z: 50, silent: true,
    style: {text: '{m|SW}{s|i}{m| / SW}{s|ic}', rich: titleRich, textAlign: 'center', align: 'center',
      textVerticalAlign: 'middle', verticalAlign: 'middle'}
  };
}
function yTitleEl(cx) {
  return {
    type: 'text', x: cx, y: 801, rotation: Math.PI / 2, z: 50, silent: true,
    style: {text: yTitle, x: 0, y: 0, font: 'bold 58px ' + FONT, fill: '#000',
      textAlign: 'center', align: 'center', textVerticalAlign: 'middle', verticalAlign: 'middle'}
  };
}
function panelLabel(txt, x) {
  return {
    type: 'text', x: x, y: 100, z: 50, silent: true,
    style: {text: txt, font: 'bold 72px ' + FONT, fill: '#000', textAlign: 'left', align: 'left',
      textVerticalAlign: 'middle', verticalAlign: 'middle'}
  };
}
const capRich = {
  b: {fontSize: CF, fontWeight: 'bold', fontFamily: FONT, fill: '#000', color: '#000', lineHeight: CF * 1.2},
  r: {fontSize: CF, fontWeight: 'bold', fontFamily: FONT, fill: '#ff0000', color: '#ff0000', lineHeight: CF * 1.2},
  u: {fontSize: CF, fontWeight: 'bold', fontFamily: FONT, fill: '#0000ff', color: '#0000ff', lineHeight: CF * 1.2},
  s: {fontSize: Math.round(CF * 0.62), fontFamily: FONT, fill: '#000', color: '#000', lineHeight: CF * 0.45, verticalAlign: 'bottom'}
};
const capBaselines = [1565, 1653, 1743, 1833];
const captionEls = captionLines.map((t, i) => ({
  type: 'text', x: 191, y: capBaselines[i] - 0.31 * CF, z: 50, silent: true,
  style: {text: t, rich: capRich, fontSize: CF, fontFamily: FONT, fill: '#000', lineHeight: CF * 1.2,
    textAlign: 'left', align: 'left', textVerticalAlign: 'middle', verticalAlign: 'middle'}
}));

const option = {
  animation: false,
  backgroundColor: 'transparent',
  grid: [
    {left: 315, top: 171, width: 1249, height: 1075, show: true, borderColor: '#000', borderWidth: 3, backgroundColor: 'transparent', containLabel: false},
    {left: 1824, top: 171, width: 1337, height: 1075, show: true, borderColor: '#000', borderWidth: 3, backgroundColor: 'transparent', containLabel: false}
  ],
  xAxis: [xAxisCfg(0), xAxisCfg(1)],
  yAxis: [yAxisCfg(0), yAxisCfg(1)],
  series: [
    {name: 'silicon-cell', type: 'scatter', xAxisIndex: 0, yAxisIndex: 0, symbol: 'circle', symbolSize: 20,
      data: siliconLow.concat(siliconMid, siliconHigh, siliconDense, siliconCore), itemStyle: {color: '#ff0000', opacity: 1}, silent: true},
    {name: 'CS320', type: 'scatter', xAxisIndex: 1, yAxisIndex: 1, symbol: 'circle', symbolSize: 17,
      data: cs320Low.concat(cs320Mid, cs320High, cs320Dense, cs320Core, cs320Band), itemStyle: {color: '#0000ff', opacity: 1}, silent: true}
  ],
  graphic: {
    elements: [
      {type: 'rect', z: -100, silent: true, shape: {x: 0, y: 0, width: 3171, height: 1866},
        style: {fill: {type: 'linear', x: 0, y: 0, x2: 1631, y2: 2772, global: true,
          colorStops: [{offset: 0, color: '#ffffff'}, {offset: 0.35, color: '#fdfdfd'}, {offset: 0.6, color: '#f0f0f0'}, {offset: 1, color: '#d4d4d4'}]}}},
      {type: 'rect', z: -90, silent: true, shape: {x: 41.5, y: 40, width: 3400, height: 2200},
        style: {fill: 'none', stroke: '#8a8a8a', lineWidth: 5}},
      panelLabel(panelLabels[0], 141),
      panelLabel(panelLabels[1], 1634),
      yTitleEl(182),
      yTitleEl(1678),
      xTitle(985),
      xTitle(2530)
    ].concat(captionEls)
  }
};
chart.setOption(option);
</script>
</body>
</html>
